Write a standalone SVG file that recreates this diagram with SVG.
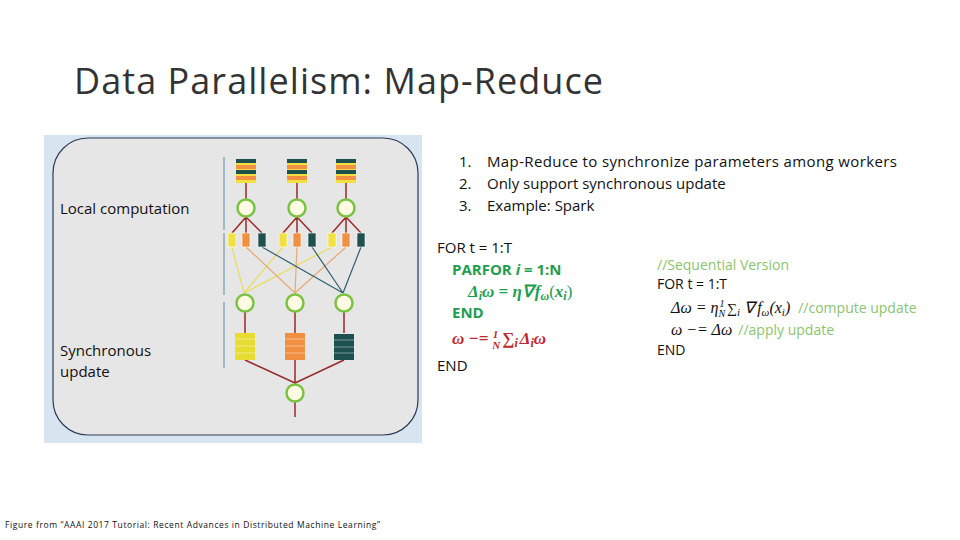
<svg xmlns="http://www.w3.org/2000/svg" width="960" height="540" viewBox="0 0 960 540">
<defs><style>
.t{font-family:"Open Sans","Liberation Sans",sans-serif;fill:#111}
.m{font-family:"Liberation Serif",serif;font-style:italic}
.g{fill:#1e9e50;font-weight:bold}
.r{fill:#c0272d;font-weight:bold}
.lg{fill:#8cc46c}
.c{fill:#fdfbe4;stroke:#7cc242;stroke-width:2.5}
.rd{stroke:#9b2a2a;stroke-width:1.5;fill:none}
</style></defs>
<rect width="960" height="540" fill="#fff"/>
<text x="74" y="94" class="t" font-size="36" textLength="529" style="fill:#333">Data Parallelism: Map-Reduce</text>
<g id="figure">
<rect x="44" y="135" width="378" height="308" fill="#d8e4f0"/>
<rect x="53" y="138" width="365" height="297" rx="35" fill="#e6e6e6" stroke="#2d3a55" stroke-width="1.2"/>
<text x="60" y="214" class="t" font-size="15">Local computation</text>
<text x="60" y="356" class="t" font-size="15">Synchronous</text>
<text x="60" y="377" class="t" font-size="15">update</text>
<g stroke="#5a8aa8" stroke-width="1"><line x1="224" y1="157" x2="224" y2="230"/><line x1="224" y1="233" x2="224" y2="295"/><line x1="224" y1="302" x2="224" y2="368"/></g>
<g id="connectors">
<g class="rd">
<path d="M246 183V199M297 183V199M346 183V199"/>
<path d="M246 217L232 233M246 217V233M246 217L262 233M297 217L283 233M297 217V233M297 217L312 233M346 217L332 233M346 217V233M346 217L361 233"/>
<path d="M245 312V333M295 312V333M344 312V333M245 360L295 383M295 360V384M344 360L295 383M295 402V417"/>
</g>
<g stroke-width="1.2" fill="none">
<path d="M232 247L244 293M283 247L244 293M332 247L244 293" stroke="#e8dc60"/>
<path d="M246 247L295 293M297 247L295 293M346 247L295 293" stroke="#e8a870"/>
<path d="M262 247L343 293M312 247L343 293M361 247L343 293" stroke="#2e6070"/>
</g>
</g>
<g id="stacks">
<g transform="translate(236,159)"><rect width="20" height="24" fill="#f0e040"/><rect y="0" width="20" height="4" fill="#1e5050"/><rect y="6" width="20" height="4" fill="#f09040"/><rect y="11" width="20" height="4" fill="#1e5050"/><rect y="17" width="20" height="4" fill="#f09040"/></g>
<g transform="translate(287,159)"><rect width="20" height="24" fill="#f0e040"/><rect y="0" width="20" height="4" fill="#1e5050"/><rect y="6" width="20" height="4" fill="#f09040"/><rect y="11" width="20" height="4" fill="#1e5050"/><rect y="17" width="20" height="4" fill="#f09040"/></g>
<g transform="translate(336,159)"><rect width="20" height="24" fill="#f0e040"/><rect y="0" width="20" height="4" fill="#1e5050"/><rect y="6" width="20" height="4" fill="#f09040"/><rect y="11" width="20" height="4" fill="#1e5050"/><rect y="17" width="20" height="4" fill="#f09040"/></g>
</g>
<g id="circles1"><circle class="c" cx="246" cy="208" r="8.5"/><circle class="c" cx="297" cy="208" r="8.5"/><circle class="c" cx="346" cy="208" r="8.5"/></g>
<g id="bars" stroke="#fff" stroke-width="0.6">
<rect x="228" y="233" width="8" height="14" fill="#f0e040"/><rect x="242" y="233" width="8" height="14" fill="#f09040"/><rect x="258" y="233" width="8" height="14" fill="#1e5050"/>
<rect x="279" y="233" width="8" height="14" fill="#f0e040"/><rect x="293" y="233" width="8" height="14" fill="#f09040"/><rect x="308" y="233" width="8" height="14" fill="#1e5050"/>
<rect x="328" y="233" width="8" height="14" fill="#f0e040"/><rect x="342" y="233" width="8" height="14" fill="#f09040"/><rect x="357" y="233" width="8" height="14" fill="#1e5050"/>
</g>
<g id="circles2"><circle class="c" cx="245" cy="303" r="8.5"/><circle class="c" cx="295" cy="303" r="8.5"/><circle class="c" cx="344" cy="303" r="8.5"/></g>
<g id="blocks"><rect x="235" y="333" width="20" height="27" fill="#e8dc30"/><rect x="285" y="333" width="20" height="27" fill="#f09040"/><rect x="334" y="334" width="20" height="26" fill="#1e5050"/>
<g stroke="#fff" stroke-width="0.6" opacity="0.7"><path d="M235 339h20M235 346h20M235 353h20M285 339h20M285 346h20M285 353h20M334 340h20M334 347h20M334 353h20"/></g></g>
<circle id="final" class="c" cx="295" cy="393" r="8.5"/>
</g>
<g id="list" class="t" font-size="15">
<text x="459" y="167">1.</text><text x="487" y="167" textLength="410">Map-Reduce to synchronize parameters among workers</text>
<text x="459" y="189">2.</text><text x="487" y="189">Only support synchronous update</text>
<text x="459" y="211">3.</text><text x="487" y="211">Example: Spark</text>
</g>
<g id="code" class="t" font-size="15">
<text x="437" y="253">FOR t = 1:T</text>
<text x="452" y="275" class="g">PARFOR <tspan font-style="italic">i</tspan> = 1:N</text>
<text x="468" y="297" class="m g" font-size="17">Δ<tspan font-size="12" dy="3">i</tspan><tspan dy="-3">ω = η∇</tspan><tspan dx="2">f</tspan><tspan font-size="12" dy="3">ω</tspan><tspan dy="-3" font-weight="normal" font-style="normal">(</tspan>x<tspan font-size="12" dy="3">i</tspan><tspan dy="-3" font-weight="normal" font-style="normal">)</tspan></text>
<text x="452" y="318" class="g">END</text>
<text x="452" y="344" class="m r" font-size="17">ω −= <tspan font-size="11" dy="-6">1</tspan><tspan font-size="11" dx="-6" dy="11">N</tspan><tspan dx="2" dy="-5" font-style="normal">∑</tspan><tspan font-size="12" dy="3">i</tspan><tspan dx="2" dy="-3">Δ</tspan><tspan font-size="12" dy="3">i</tspan><tspan dy="-3">ω</tspan></text>
<text x="437" y="371">END</text>
<text x="657" y="270" class="lg" font-size="14">//Sequential Version</text>
<text x="657" y="289" font-size="14">FOR t = 1:T</text>
<text x="671" y="313" font-size="14"><tspan class="m" font-size="16">Δω = η</tspan><tspan class="m" font-size="10" dx="1" dy="-6">1</tspan><tspan class="m" font-size="10" dx="-6" dy="10">N</tspan><tspan dx="2" dy="-4" font-family="Liberation Serif">∑</tspan><tspan class="m" font-size="11" dy="3">i</tspan><tspan class="m" font-size="16" dx="4" dy="-3">∇</tspan><tspan class="m" font-size="16" dx="2">f</tspan><tspan class="m" font-size="11" dy="3">ω</tspan><tspan class="m" font-size="16" dy="-3">(x</tspan><tspan class="m" font-size="11" dy="3">i</tspan><tspan class="m" font-size="16" dy="-3">)</tspan><tspan class="lg" dx="8">//compute update</tspan></text>
<text x="671" y="335" font-size="14"><tspan class="m" font-size="16">ω −= Δω</tspan><tspan class="lg" dx="6">//apply update</tspan></text>
<text x="657" y="355" font-size="14">END</text>
</g>
<text x="5" y="528" class="t" font-size="8.5" textLength="375">Figure from “AAAI 2017 Tutorial: Recent Advances in Distributed Machine Learning”</text>
</svg>
